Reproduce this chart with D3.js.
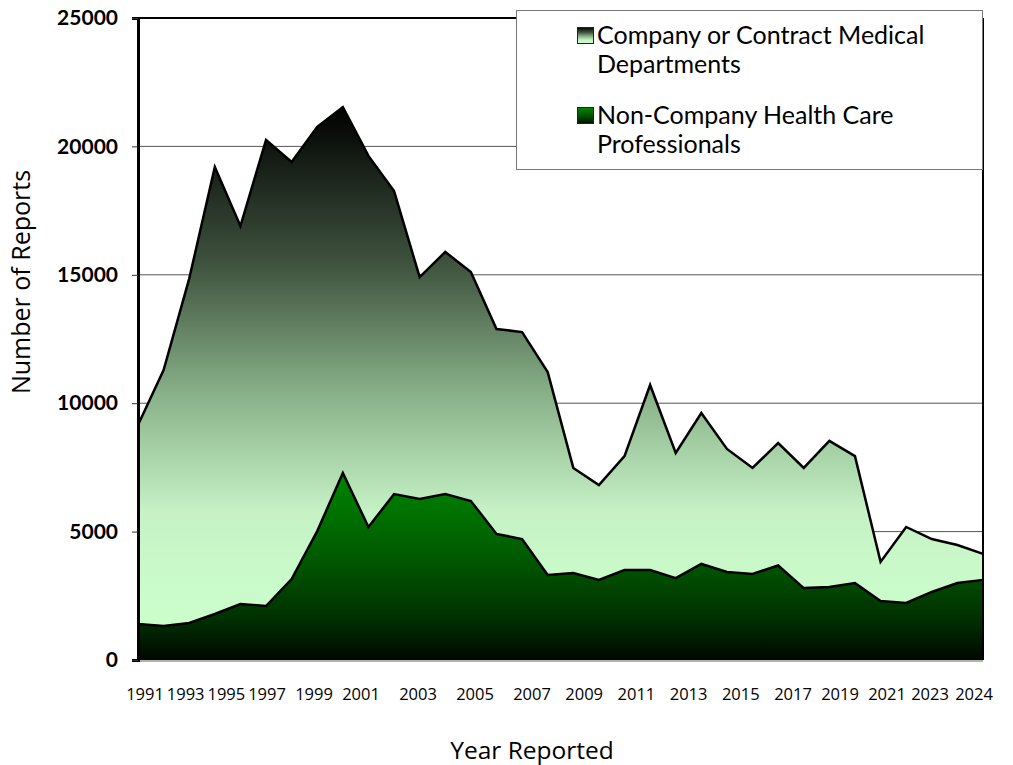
<!DOCTYPE html>
<html>
<head>
<meta charset="utf-8">
<script src="https://cdn.jsdelivr.net/npm/d3@7"></script>
<style>
  body { margin: 0; background: #fff; }
  svg { display: block; }
</style>
</head>
<body>
<script>
  // categories
  const years = [1991, 1992, 1993, 1994, 1995, 1996, 1997, 1998, 1999, 2000,
    2001, 2002, 2003, 2004, 2005, 2006, 2007, 2008, 2009, 2010,
    2011, 2012, 2013, 2014, 2015, 2016, 2017, 2018, 2019, 2020,
    2021, 2022, 2023, 2024];

  // series values (stacked, non-company at the bottom)
  const nonCompany = [1400, 1320, 1440, 1790, 2180, 2100, 3150, 5020, 7280, 5180,
    6460, 6270, 6460, 6190, 4910, 4710, 3310, 3390, 3120, 3500,
    3500, 3190, 3740, 3430, 3350, 3680, 2800, 2840, 3000, 2300,
    2220, 2650, 3000, 3120];
  const company = [7750, 9970, 13410, 17410, 14720, 18150, 16240, 15740, 14250, 14450,
    11800, 8640, 9430, 8920, 7980, 8060, 7900, 4090, 3690, 4440,
    7210, 4870, 5880, 4790, 4130, 4770, 4680, 5690, 4940, 1520,
    2960, 2060, 1480, 1010];

  // tick labels
  const yTicks = [0, 5000, 10000, 15000, 20000, 25000];
  const xTickYears = [1991, 1993, 1995, 1997, 1999, 2001, 2003, 2005, 2007, 2009,
    2011, 2013, 2015, 2017, 2019, 2021, 2023, 2024];

  const seriesNames = ["Company or Contract Medical|Departments", "Non-Company Health Care|Professionals"];
  const titleText = "Yearly Reports Received by Reporter Category";

  const W = 1013, H = 765;
  const plotL = 138, plotR = 983, plotT = 18, plotB = 660;

  const svg = d3.select("body").append("svg")
    .attr("width", W)
    .attr("height", H);

  const defs = svg.append("defs");

  // gradient for the company area: black on top to pale green
  const gCompany = defs.append("linearGradient")
    .attr("id", "gradCompany")
    .attr("x1", 0).attr("y1", 0).attr("x2", 0).attr("y2", 1);
  [[0, "#000000"], [0.3, "#3e523e"], [0.55, "#88b088"], [0.78, "#c6f2c6"], [1, "#ccffcc"]]
    .forEach(s => gCompany.append("stop").attr("offset", s[0]).attr("stop-color", s[1]));

  // gradient for the non-company area: green on top to black
  const gNon = defs.append("linearGradient")
    .attr("id", "gradNon")
    .attr("x1", 0).attr("y1", 0).attr("x2", 0).attr("y2", 1);
  [[0, "#008600"], [0.45, "#005a00"], [0.78, "#003000"], [1, "#000800"]]
    .forEach(s => gNon.append("stop").attr("offset", s[0]).attr("stop-color", s[1]));

  // title (mostly above the page edge, like the original)
  svg.append("text")
    .attr("x", 490)
    .attr("y", -4)
    .attr("text-anchor", "middle")
    .style("font-family", "Lato, sans-serif")
    .style("font-weight", "bold")
    .style("font-size", "26px")
    .style("fill", "#3a8a00")
    .text(titleText);

  const xScale = d3.scalePoint()
    .domain(years)
    .range([plotL, plotR]);

  const yScale = d3.scaleLinear()
    .domain([0, 25000])
    .range([plotB, plotT]);

  // grid lines
  svg.append("g")
    .selectAll("line")
    .data(yTicks.filter(d => d > 0 && d < 25000))
    .enter()
    .append("line")
      .attr("x1", plotL)
      .attr("x2", plotR)
      .attr("y1", d => yScale(d))
      .attr("y2", d => yScale(d))
      .attr("stroke", "#555")
      .attr("stroke-width", 1);

  // stacked data
  const rows = years.map((y, i) => ({ year: y, non: nonCompany[i], comp: company[i] }));
  const stacked = d3.stack().keys(["non", "comp"])(rows);

  const area = d3.area()
    .x(d => xScale(d.data.year))
    .y0(d => yScale(d[0]))
    .y1(d => yScale(d[1]));

  const topLine = d3.line()
    .x(d => xScale(d.data.year))
    .y(d => yScale(d[1]));

  svg.append("path")
    .datum(stacked[1])
    .attr("d", area)
    .attr("fill", "url(#gradCompany)");

  svg.append("path")
    .datum(stacked[0])
    .attr("d", area)
    .attr("fill", "url(#gradNon)");

  svg.append("path")
    .datum(stacked[1])
    .attr("d", topLine)
    .attr("fill", "none")
    .attr("stroke", "#000")
    .attr("stroke-width", 2.5);

  svg.append("path")
    .datum(stacked[0])
    .attr("d", topLine)
    .attr("fill", "none")
    .attr("stroke", "#000")
    .attr("stroke-width", 2.5);

  // plot frame
  svg.append("line")
    .attr("x1", plotL).attr("x2", plotR)
    .attr("y1", plotT).attr("y2", plotT)
    .attr("stroke", "#000").attr("stroke-width", 2);
  svg.append("line")
    .attr("x1", plotR).attr("x2", plotR)
    .attr("y1", plotT).attr("y2", plotB)
    .attr("stroke", "#000").attr("stroke-width", 2);
  svg.append("line")
    .attr("x1", plotL).attr("x2", plotR)
    .attr("y1", plotB + 1).attr("y2", plotB + 1)
    .attr("stroke", "#999").attr("stroke-width", 1.5);

  // y axis
  const yAxis = d3.axisLeft(yScale)
    .tickValues(yTicks)
    .tickSize(6)
    .tickFormat(d3.format("d"));

  const gy = svg.append("g")
    .attr("transform", `translate(${plotL}, 0)`)
    .call(yAxis);
  gy.select(".domain").attr("stroke", "#000").attr("stroke-width", 3);
  gy.selectAll(".tick line").attr("stroke", "#333");
  gy.selectAll(".tick text")
    .attr("x", -20)
    .style("font-family", "Lato, sans-serif")
    .style("font-weight", "bold")
    .style("font-size", "21px")
    .style("fill", "#000");

  // x tick labels (spaced as in the original text row)
  const labelX = d3.scaleLinear()
    .domain([1991, 1997, 2001, 2007, 2017, 2021, 2023, 2024])
    .range([145, 267, 361, 532, 793, 887, 930, 974]);

  svg.append("g")
    .selectAll("text")
    .data(xTickYears)
    .enter()
    .append("text")
      .attr("x", d => labelX(d))
      .attr("y", 700)
      .attr("text-anchor", "middle")
      .style("font-family", "'Open Sans', sans-serif")
      .style("font-size", "16.5px")
      .style("fill", "#000")
      .text(d => d);

  // axis titles
  svg.append("text")
    .attr("transform", "translate(30, 282) rotate(-90)")
    .attr("text-anchor", "middle")
    .style("font-family", "'Open Sans', sans-serif")
    .style("font-size", "25px")
    .text("Number of Reports");

  svg.append("text")
    .attr("x", 532)
    .attr("y", 759)
    .attr("text-anchor", "middle")
    .style("font-family", "'Open Sans', sans-serif")
    .style("font-size", "24.5px")
    .text("Year Reported");

  // legend
  const legend = svg.append("g");
  legend.append("rect")
    .attr("x", 516.5).attr("y", 10.5)
    .attr("width", 466).attr("height", 159)
    .attr("fill", "#fff")
    .attr("stroke", "#777")
    .attr("stroke-width", 1);

  const swatchFill = ["url(#gradCompany)", "url(#gradNon)"];
  seriesNames.forEach((name, i) => {
    const y0 = 27 + i * 80;
    legend.append("rect")
      .attr("x", 577.5).attr("y", y0 + 0.5)
      .attr("width", 16).attr("height", 16)
      .attr("fill", swatchFill[i])
      .attr("stroke", "#222")
      .attr("stroke-width", 1);
    name.split("|").forEach((line, j) => {
      legend.append("text")
        .attr("x", 597)
        .attr("y", y0 + 17 + j * 29)
        .style("font-family", "Lato, sans-serif")
        .style("font-size", "25px")
        .style("fill", "#000")
        .text(line);
    });
  });
</script>
</body>
</html>
